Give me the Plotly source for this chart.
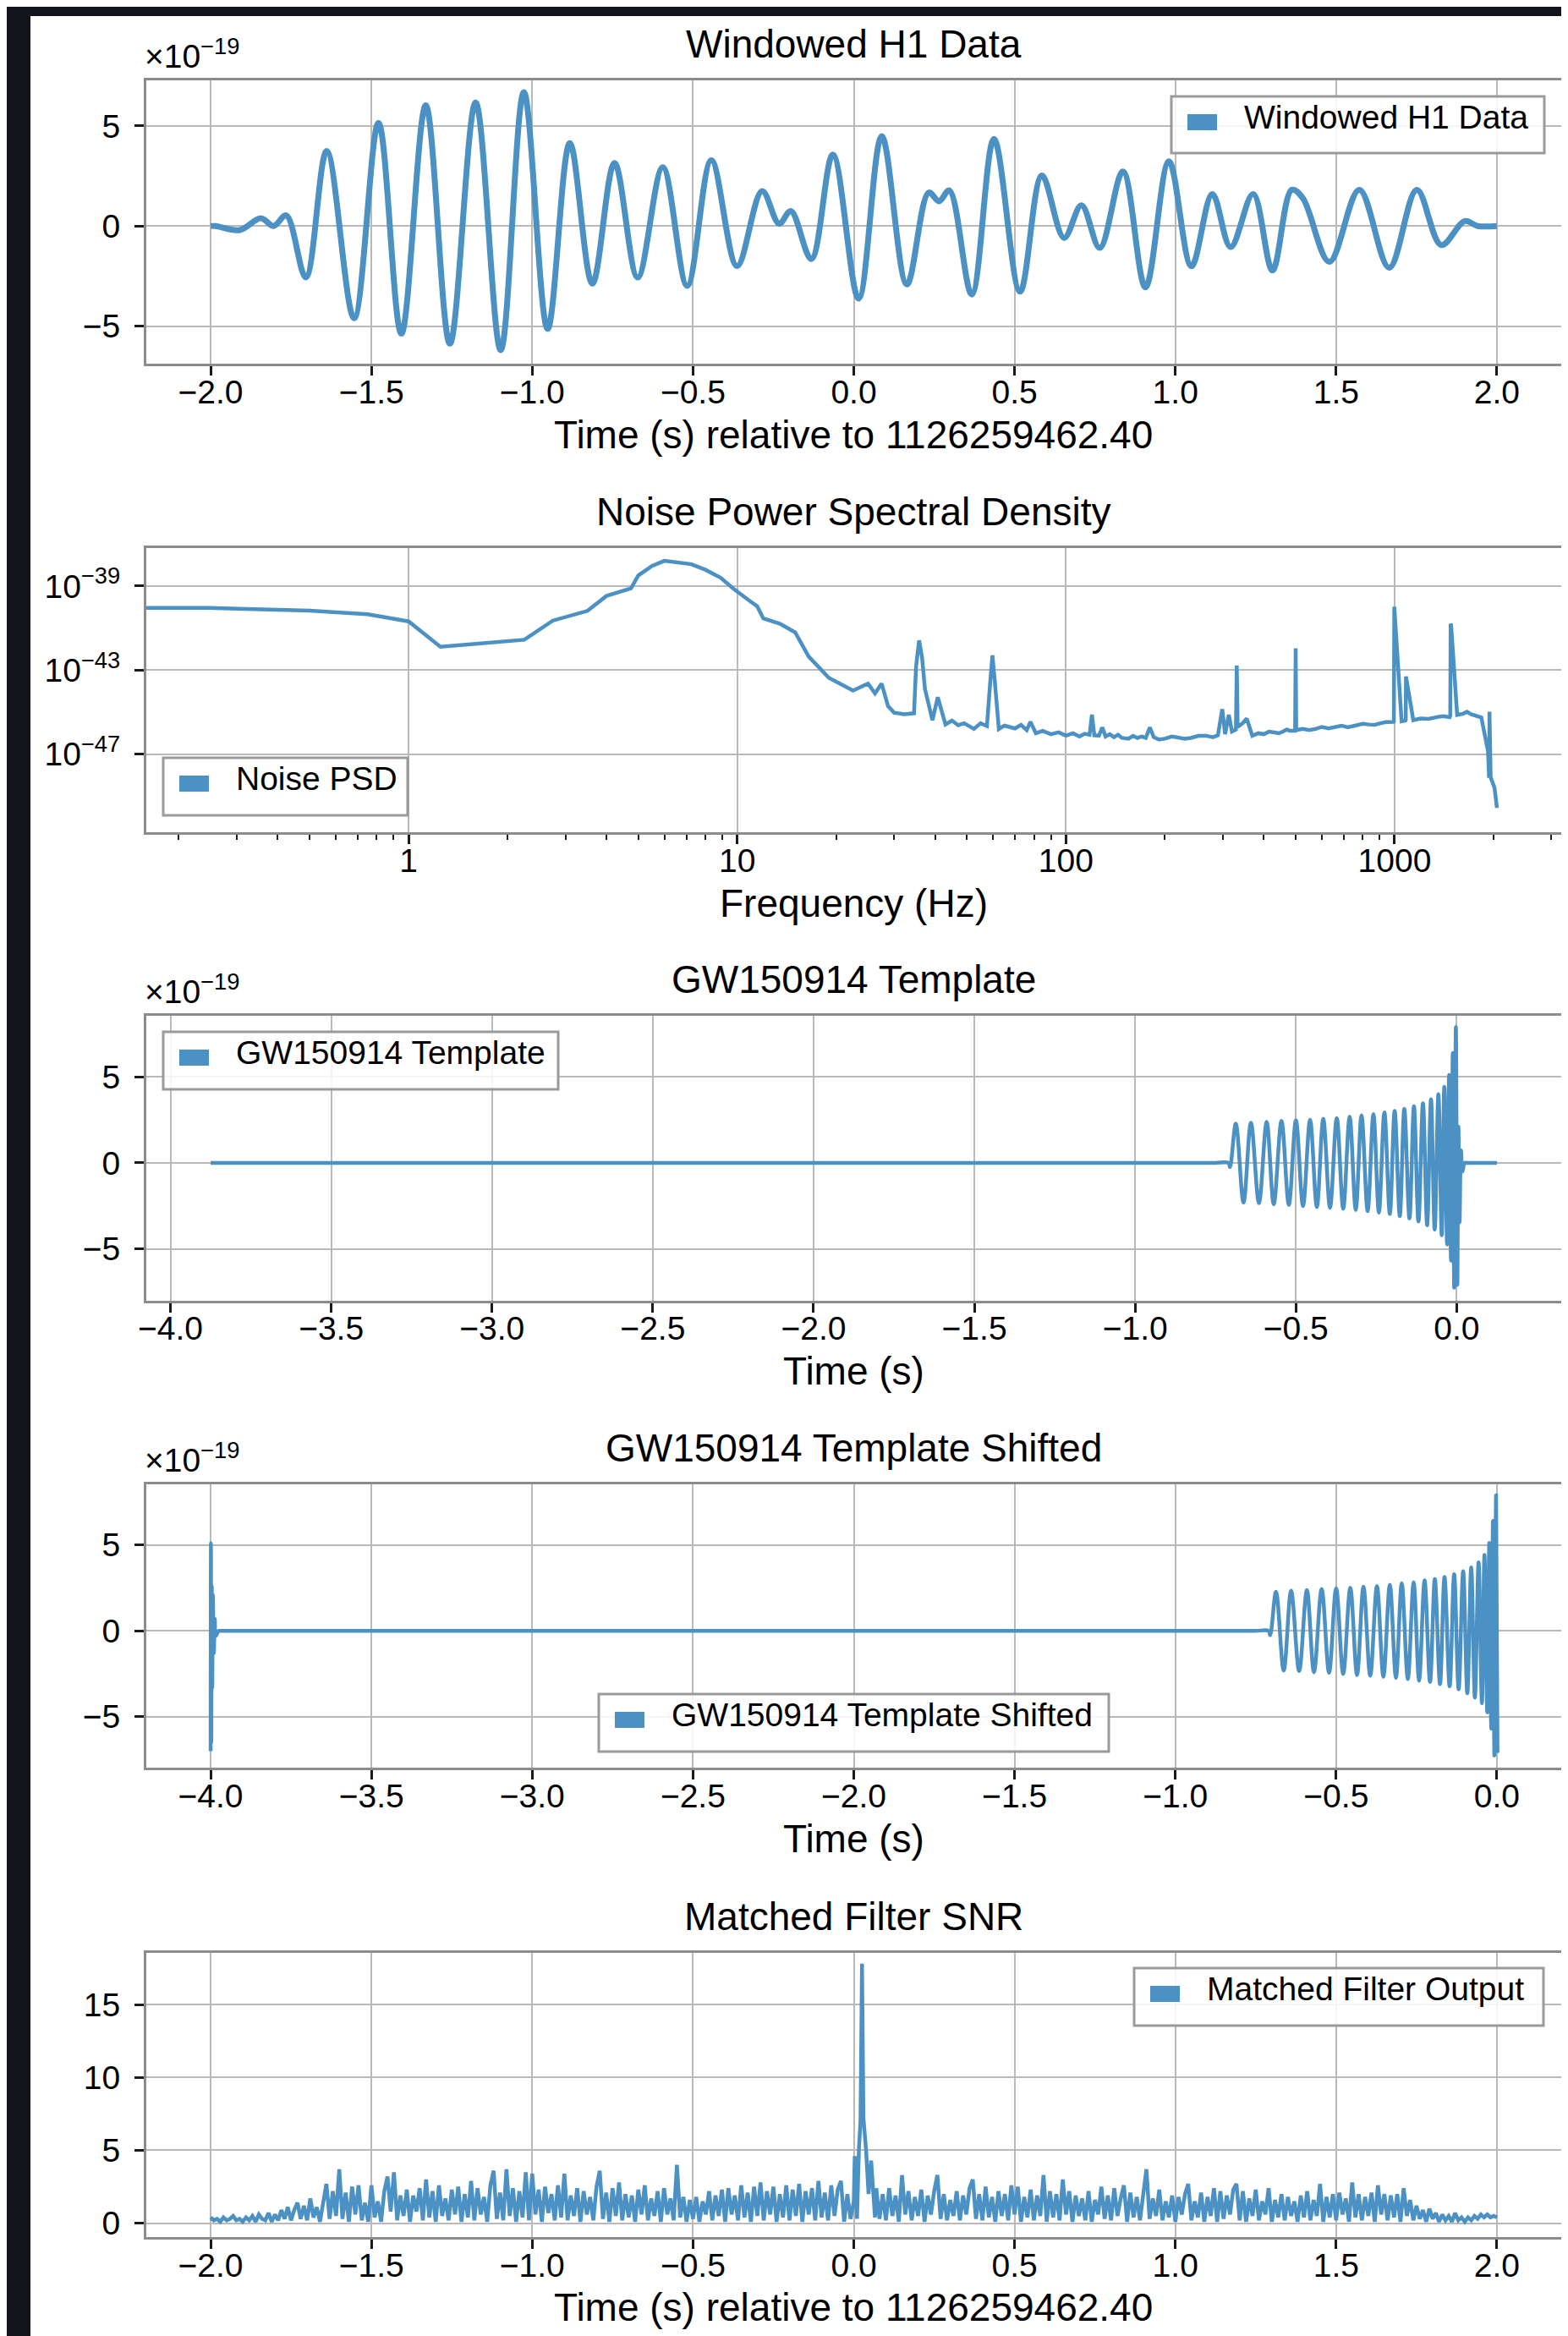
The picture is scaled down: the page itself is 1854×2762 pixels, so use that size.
import numpy as np
import plotly.graph_objects as go

# ---------------- data ----------------
# Panel 1: windowed H1 strain, extrema (time s, strain in units of 1e-19)
h1_time = [-2.0, -1.985, -1.909, -1.844, -1.804, -1.765, -1.704, -1.639, -1.554, -1.478,
           -1.407, -1.331, -1.256, -1.176, -1.098, -1.026, -0.952, -0.883, -0.813, -0.744,
           -0.672, -0.594, -0.518, -0.443, -0.363, -0.285, -0.232, -0.196, -0.132, -0.065,
           0.015, 0.087, 0.165, 0.233, 0.265, 0.297, 0.367, 0.436, 0.517, 0.585,
           0.654, 0.708, 0.765, 0.837, 0.907, 0.980, 1.050, 1.115, 1.172, 1.242,
           1.302, 1.362, 1.397, 1.479, 1.572, 1.665, 1.751, 1.827, 1.900, 1.940, 2.0]
h1_strain = [0.0, 0.0, -0.2, 0.39, 0.0, 0.53, -2.57, 3.75, -4.61, 5.15,
             -5.38, 6.03, -5.88, 6.17, -6.2, 6.69, -5.14, 4.14, -2.88, 3.15,
             -2.57, 2.94, -2.99, 3.29, -2.0, 1.74, 0.11, 0.75, -1.65, 3.57,
             -3.63, 4.49, -2.92, 1.67, 1.24, 1.78, -3.42, 4.35, -3.28, 2.52,
             -0.59, 1.03, -1.09, 2.73, -3.07, 3.23, -2.01, 1.6, -1.05, 1.6,
             -2.22, 1.81, 1.38, -1.79, 1.81, -2.08, 1.81, -0.95, 0.25, 0.0, 0.0]

# Panel 2: noise PSD (first point stands for the DC bin, clipped on the log axis)
psd_freq = [0.1, 0.25, 0.5, 0.75, 1.0, 1.25, 2.25, 2.75, 3.5, 4.0, 4.75, 5.0, 5.5, 6.0, 7.25,
            8.0, 8.9, 9.75, 11.0, 11.5, 12.0, 13.5, 15.0, 16.5, 19.0, 22.5, 25.0, 26.25, 27.5,
            28.75, 30.0, 32.25, 34.5, 35.0, 35.75, 36.5, 37.25, 39.25, 40.75, 43.0, 45.0, 47.0,
            49.0, 52.5, 55.0, 57.5, 58.75, 59.75, 60.75, 62.5, 65.0, 67.5, 70.0, 73.0, 76.0,
            78.0, 81.0, 85.0, 90.0, 95.0, 100, 105, 110, 114, 118, 120, 122, 126, 129, 132, 136,
            140, 144, 148, 155, 160, 165, 170, 175, 180, 185, 192, 200, 210, 220, 230, 240, 253,
            267, 280, 290, 299, 305, 313, 320, 329, 331, 333, 345, 355, 369, 385, 400, 415, 430,
            445, 457, 470, 480, 498, 500, 502, 525, 550, 575, 600, 630, 656, 690, 720, 760, 800,
            835, 870, 905, 942, 993, 995, 998, 1050, 1079, 1081, 1083, 1140, 1200, 1270, 1353,
            1410, 1470, 1477, 1481, 1486, 1550, 1617, 1660, 1707, 1836, 1924, 1938, 1941, 1944,
            1960, 2014, 2048]
psd_value = [9.1e-41, 9.1e-41, 6.8e-41, 4.6e-41, 2.1e-41, 1.3e-42, 2.8e-42, 2.3e-41, 6.6e-41,
             3.4e-40, 7.8e-40, 3.2e-39, 9.0e-39, 1.6e-38, 1.1e-38, 6.0e-39, 2.5e-39, 7.4e-40,
             1.8e-40, 1.1e-40, 2.9e-41, 1.6e-41, 6.3e-42, 4.4e-43, 4.3e-44, 1.07e-44, 2.3e-44,
             7.9e-45, 2.3e-44, 1.95e-45, 9.5e-46, 8.1e-46, 8.9e-46, 1.5e-43, 2.6e-42, 4.0e-43,
             1.26e-44, 4.2e-46, 5.2e-45, 2.6e-46, 4.0e-46, 2.4e-46, 3.0e-46, 1.6e-46, 3.0e-46,
             2.2e-46, 2.0e-44, 5.1e-43, 3.0e-44, 1.6e-46, 2.3e-46, 1.9e-46, 1.7e-46, 2.5e-46,
             1.4e-46, 3.5e-46, 1.0e-46, 1.3e-46, 9.0e-47, 1.1e-46, 7.6e-47, 1.0e-46, 7.0e-47,
             9.5e-47, 8.5e-47, 7.6e-46, 8.0e-47, 7.6e-47, 1.9e-46, 7.0e-47, 9.0e-47, 6.5e-47,
             8.5e-47, 6.0e-47, 5.5e-47, 7.5e-47, 6.0e-47, 7.0e-47, 6.0e-47, 1.9e-46, 6.5e-47,
             5.0e-47, 5.5e-47, 7.0e-47, 6.5e-47, 5.5e-47, 6.0e-47, 7.5e-47, 7.6e-47, 6.5e-47,
             8.0e-47, 1.4e-45, 9.0e-47, 7.6e-46, 1.2e-46, 1.5e-46, 1.7e-43, 2.0e-46, 3.0e-46,
             5.0e-46, 7.6e-47, 1.0e-46, 9.0e-47, 1.2e-46, 1.1e-46, 1.0e-46, 1.2e-46, 1.5e-46,
             1.3e-46, 1.3e-46, 1.1e-42, 1.4e-46, 1.6e-46, 1.4e-46, 1.6e-46, 2.0e-46, 1.7e-46,
             1.9e-46, 2.3e-46, 1.9e-46, 2.2e-46, 2.8e-46, 2.6e-46, 2.5e-46, 3.0e-46, 3.4e-46,
             3.5e-46, 3.6e-46, 1.05e-40, 3.7e-46, 4.0e-46, 4.2e-46, 5.0e-44, 4.2e-46, 5.0e-46,
             4.8e-46, 6.0e-46, 6.5e-46, 5.8e-46, 7.0e-46, 1.6e-41, 1.4e-41, 7.5e-46, 8.5e-46,
             1.05e-45, 8.0e-46, 5.6e-46, 1.4e-47, 8.5e-49, 8.0e-49, 1.05e-45, 8.0e-49, 2.5e-49,
             2.8e-50, 6.9e-51]

# Panel 3: GW150914 template, extrema (time s, strain in units of 1e-19)
template_time = [-3.875, -0.80, -0.75, -0.71, -0.705, -0.687, -0.663, -0.640, -0.615, -0.591,
                 -0.569, -0.545, -0.522, -0.500, -0.478, -0.456, -0.435, -0.415, -0.394, -0.373,
                 -0.353, -0.333, -0.314, -0.296, -0.277, -0.259, -0.242, -0.225, -0.208, -0.193,
                 -0.177, -0.163, -0.147, -0.133, -0.119, -0.105, -0.092, -0.080, -0.0685, -0.057,
                 -0.0466, -0.0387, -0.0299, -0.0237, -0.0176, -0.0123, -0.0079, -0.0026, 0.0018,
                 0.0053, 0.0088, 0.0132, 0.0176, 0.0246, 0.03, 0.125]
template_strain = [0.0, 0.0, 0.0, 0.0, -0.25, 2.28, -2.31, 2.34, -2.34, 2.38,
                   -2.41, 2.44, -2.44, 2.48, -2.51, 2.51, -2.57, 2.57, -2.61, 2.61,
                   -2.67, 2.69, -2.74, 2.77, -2.81, 2.84, -2.90, 2.94, -2.97, 3.02,
                   -3.10, 3.14, -3.23, 3.30, -3.40, 3.47, -3.63, 3.70, -3.88, 3.99,
                   -4.21, 4.42, -4.75, 5.12, -5.69, 6.40, -7.26, 7.89, -7.10,
                   2.1, -3.47, 0.74, -0.5, 0.0, 0.0, 0.0]

# Panel 4: shifted template = wrapped merger at -4 s + template chirp up to 0 s
shifted_wrap_time = [-4.0, -3.999, -3.998, -3.9965, -3.995, -3.993, -3.990, -3.987, -3.984,
                     -3.975, -3.97]
shifted_wrap_strain = [-7.0, 5.1, -6.5, 2.6, -3.3, 2.1, -1.3, 0.7, -0.3, 0.0, 0.0]
shifted_chirp_start = -0.80
shifted_end = 0.002

# Panel 5: matched filter SNR
snr_pre_start, snr_step = -2.0, 0.01
snr_pre = [0.4, 0.2, 0.3, 0.1, 0.4, 0.2, 0.3, 0.5, 0.2, 0.3,
           0.1, 0.4, 0.2, 0.5, 0.1, 0.6, 0.3, 0.2, 0.7, 0.1,
           0.6, 0.2, 0.9, 0.3, 1.1, 0.2, 0.9, 1.4, 0.3, 1.2,
           0.2, 1.7, 0.4, 1.1, 0.1, 1.4, 2.7, 0.3, 2.2, 0.5,
           3.7, 0.3, 2.1, 0.1, 2.5, 0.6, 2.6, 0.2, 1.4, 0.1,
           2.6, 0.4, 1.5, 0.1, 2.2, 3.2, 0.8, 3.5, 0.2, 1.9,
           0.5, 2.3, 0.1, 1.9, 0.8, 2.4, 0.2, 3.0, 0.4, 2.2,
           0.1, 2.6, 0.5, 1.7, 0.2, 2.3, 0.6, 2.5, 0.1, 2.0,
           0.4, 2.9, 0.2, 2.4, 0.6, 1.8, 0.1, 2.6, 3.6, 0.3,
           2.1, 0.2, 3.7, 0.5, 2.4, 0.1, 2.2, 0.4, 3.5, 0.2,
           3.4, 0.6, 2.3, 0.1, 2.5, 0.7, 2.0, 0.2, 2.6, 0.4,
           3.4, 0.2, 1.9, 0.5, 2.4, 0.1, 2.2, 0.6, 1.8, 0.2,
           2.5, 3.6, 0.3, 2.1, 0.1, 2.4, 0.5, 2.8, 0.2, 2.0,
           0.4, 1.9, 0.1, 2.3, 0.6, 2.6, 0.2, 1.7, 0.5, 2.2,
           0.1, 2.4, 0.6, 1.7, 0.2, 4.0, 0.4, 1.8, 0.1, 1.6,
           0.3, 1.8, 0.1, 1.5, 0.6, 2.2, 0.2, 1.9, 0.5, 2.3,
           0.1, 2.4, 0.6, 1.9, 0.2, 2.6, 0.4, 2.1, 0.1, 2.5,
           0.5, 2.8, 0.2, 2.2, 0.6, 2.5, 0.1, 2.0, 0.4, 2.6,
           0.2, 2.3, 0.5, 2.7, 0.1, 2.2, 0.6, 2.4, 0.2, 2.9,
           0.4, 2.1, 0.2, 2.6, 0.5, 2.3, 2.9, 0.1, 2.0, 0.3]
snr_peak_time = [0.0, 0.003, 0.01, 0.016, 0.021, 0.0256, 0.03, 0.038, 0.046, 0.054, 0.066]
snr_peak_value = [1.5, 4.6, 0.3, 5.1, 7.0, 17.8, 7.2, 5.1, 2.0, 4.3, 0.4]
snr_post_start = 0.07
snr_post = [2.4, 0.3, 2.0,
            0.2, 2.4, 0.5, 1.9, 0.1, 3.3, 0.6, 2.2, 0.2, 1.8,
            0.5, 2.3, 0.1, 1.9, 0.6, 2.2, 3.3, 0.3, 2.0, 0.2,
            1.6, 0.5, 2.2, 0.2, 1.9, 0.6, 2.4, 3.0, 0.3, 2.0,
            0.2, 2.5, 0.4, 1.8, 0.1, 2.2, 0.5, 2.0, 0.2, 2.6,
            0.6, 2.5, 0.1, 1.8, 0.4, 2.3, 0.2, 1.9, 0.5, 3.3,
            0.1, 2.2, 0.4, 2.0, 0.2, 3.0, 0.6, 2.2, 0.1, 1.9,
            0.5, 1.7, 0.2, 2.2, 0.1, 1.6, 0.6, 2.5, 0.3, 1.9,
            0.2, 2.4, 0.5, 1.7, 2.6, 0.1, 2.1, 0.4, 1.8, 0.2,
            2.0, 3.7, 0.3, 1.7, 0.5, 2.3, 0.2, 1.5, 0.4, 1.9,
            0.1, 1.8, 0.6, 2.0, 2.7, 0.2, 1.5, 0.4, 2.1, 0.1,
            1.8, 0.5, 2.4, 0.1, 2.2, 0.3, 1.9, 0.6, 2.3, 2.7,
            0.2, 2.2, 0.1, 1.7, 0.5, 2.3, 0.2, 1.5, 0.6, 2.4,
            0.1, 1.6, 0.4, 2.0, 0.2, 1.8, 0.5, 1.5, 0.1, 1.9,
            0.4, 2.2, 0.2, 1.6, 0.5, 2.7, 0.1, 1.8, 0.4, 2.0,
            0.2, 2.1, 0.6, 1.7, 0.1, 2.8, 0.4, 2.0, 0.2, 1.8,
            0.5, 2.1, 0.1, 2.6, 0.6, 2.0, 0.2, 1.9, 0.4, 2.0,
            0.1, 2.4, 0.5, 1.6, 0.2, 1.2, 0.3, 0.9, 0.1, 1.0,
            0.3, 0.7, 0.1, 0.6, 0.2, 0.5, 0.1, 0.7, 0.2, 0.4,
            0.1, 0.4, 0.2, 0.5, 0.3, 0.6, 0.4, 0.6, 0.4, 0.5,
            0.4]

titles = ["Windowed H1 Data", "Noise Power Spectral Density", "GW150914 Template",
          "GW150914 Template Shifted", "Matched Filter SNR"]
legend_names = ["Windowed H1 Data", "Noise PSD", "GW150914 Template",
                "GW150914 Template Shifted", "Matched Filter Output"]
xlabels = ["Time (s) relative to 1126259462.40", "Frequency (Hz)", "Time (s)", "Time (s)",
           "Time (s) relative to 1126259462.40"]
offset_label = "×10<sup>−19</sup>"

# ---------------- derived series ----------------
shifted_time = list(shifted_wrap_time) + [t for t in template_time if shifted_chirp_start <= t <= shifted_end]
shifted_strain = list(shifted_wrap_strain) + [v for t, v in zip(template_time, template_strain)
                                              if shifted_chirp_start <= t <= shifted_end]
snr_time = ([round(snr_pre_start + i * snr_step, 4) for i in range(len(snr_pre))] + snr_peak_time +
            [round(snr_post_start + i * snr_step, 4) for i in range(len(snr_post))])
snr_value = snr_pre + snr_peak_value + snr_post

# ---------------- styling / layout ----------------
W, H = 1854, 2762
BLUE = "#4b91c3"
FONT = "Liberation Sans, Arial, Helvetica, sans-serif"
SPINE = "#8c8c8c"
GRID = "#b9b9b9"
TICKC = "#1a1a1a"
TICK_SIZE = 39
TITLE_SIZE = 46
LEG_SIZE = 39

def px(x):
    return x / W

def py(y):
    return 1 - y / H

X_LEFT, X_RIGHT = 165, 1838
panel_px = [(87, 422), (640, 976), (1193, 1529.5), (1746.7, 2082.3), (2300.7, 2636.7)]
# legend boxes (left, right, top, bottom) in pixels
legend_boxes = [(1377, 1818, 106, 173), (185, 474, 888, 956), (185, 652, 1212, 1280),
                (700, 1303, 1995, 2063), (1333, 1817, 2319, 2387)]

fig = go.Figure()

def add_panel(i, x, y, width, shape="linear"):
    ax = "" if i == 0 else str(i + 1)
    fig.add_trace(go.Scatter(x=x, y=y, mode="lines", line=dict(color=BLUE, width=width, shape=shape),
                             xaxis="x" + ax, yaxis="y" + ax, name=legend_names[i],
                             showlegend=False, hoverinfo="skip"))

add_panel(0, h1_time, h1_strain, 7, "spline")
add_panel(1, psd_freq, psd_value, 4.5)
add_panel(2, template_time, template_strain, 4.5, "spline")
add_panel(3, shifted_time, shifted_strain, 4.5, "spline")
add_panel(4, snr_time, snr_value, 4.5)

axis_common = dict(showline=True, mirror=True, linecolor=SPINE, linewidth=3,
                   showgrid=True, gridcolor=GRID, gridwidth=2, zeroline=False,
                   ticks="outside", ticklen=11, tickwidth=2.5, tickcolor=TICKC,
                   tickfont=dict(size=TICK_SIZE, color="black", family=FONT))

x_ranges = [[-2.2, 2.2], [-0.798, 3.507], [-4.075, 0.325], [-4.2, 0.2], [-2.2, 2.2]]
y_ranges = [[-6.88, 7.28], [-50.71, -37.19], [-8.0, 8.56], [-7.98, 8.55], [-0.93, 18.56]]

layout = {}
for i, (top, bot) in enumerate(panel_px):
    ax = "" if i == 0 else str(i + 1)
    xa = dict(axis_common, domain=[px(X_LEFT), px(X_RIGHT)], anchor="y" + ax, range=x_ranges[i],
              ticklabelstandoff=-14)
    ya = dict(axis_common, domain=[py(bot), py(top)], anchor="x" + ax, range=y_ranges[i],
              ticklabelstandoff=9)
    if i == 1:
        xa.update(type="log", tickmode="array", tickvals=[1, 10, 100, 1000],
                  ticktext=["1", "10", "100", "1000"],
                  minor=dict(ticks="outside", ticklen=6, tickwidth=2, tickcolor=TICKC, showgrid=False,
                             tickmode="array",
                             tickvals=[0.2, 0.3, 0.4, 0.5, 0.6, 0.7, 0.8, 0.9,
                                       2, 3, 4, 5, 6, 7, 8, 9, 20, 30, 40, 50, 60, 70, 80, 90,
                                       200, 300, 400, 500, 600, 700, 800, 900, 2000, 3000]))
        ya.update(type="log", tickmode="array", tickvals=[1e-47, 1e-43, 1e-39],
                  ticktext=["10<sup>−47</sup>", "10<sup>−43</sup>", "10<sup>−39</sup>"])
    else:
        xa.update(tick0=0, dtick=0.5, tickformat=".1f")
        ya.update(tick0=0, dtick=5)
    layout["xaxis" + ax] = xa
    layout["yaxis" + ax] = ya

annotations = []
xc = (X_LEFT + X_RIGHT) / 2
for i, (top, bot) in enumerate(panel_px):
    annotations.append(dict(x=px(xc), y=py(top - 35.5 - 0.16 * TITLE_SIZE), xref="paper", yref="paper",
                            text=titles[i], showarrow=False, xanchor="center", yanchor="middle",
                            font=dict(size=TITLE_SIZE, color="black", family=FONT)))
    annotations.append(dict(x=px(xc), y=py(bot + 92 - 0.18 * TITLE_SIZE), xref="paper", yref="paper",
                            text=xlabels[i], showarrow=False, xanchor="center", yanchor="middle",
                            font=dict(size=TITLE_SIZE, color="black", family=FONT)))
    if i in (0, 2, 3):
        annotations.append(dict(x=px(161), y=py(top - 5), xref="paper", yref="paper", text=offset_label,
                                showarrow=False, xanchor="left", yanchor="bottom",
                                font=dict(size=TICK_SIZE, color="black", family=FONT)))

DARK = "#121419"
shapes = [
    dict(type="rect", xref="paper", yref="paper", x0=0, x1=px(28), y0=0, y1=1,
         fillcolor=DARK, line=dict(width=0), layer="below"),
    dict(type="rect", xref="paper", yref="paper", x0=0, x1=1, y0=py(11), y1=1,
         fillcolor=DARK, line=dict(width=0), layer="below"),
]

# legends: framed box, colour patch and label
for name, (l, r, t, b) in zip(legend_names, legend_boxes):
    shapes.append(dict(type="rect", xref="paper", yref="paper", x0=px(l), x1=px(r), y0=py(b), y1=py(t),
                       fillcolor="rgba(255,255,255,0.85)", line=dict(color="#9a9a9a", width=3),
                       layer="above"))
    shapes.append(dict(type="rect", xref="paper", yref="paper", x0=px(l + 19), x1=px(l + 54),
                       y0=py(t + 40), y1=py(t + 21), fillcolor=BLUE, line=dict(width=0), layer="above"))
    annotations.append(dict(x=px(l + 84), y=py(t + 31 - 0.16 * LEG_SIZE), xref="paper", yref="paper",
                            text=name, showarrow=False, xanchor="left", yanchor="middle",
                            font=dict(size=LEG_SIZE, color="black", family=FONT)))

fig.update_layout(width=W, height=H, margin=dict(l=0, r=0, t=0, b=0, autoexpand=False),
                  paper_bgcolor="white", plot_bgcolor="white", showlegend=False,
                  font=dict(family=FONT, color="black"),
                  annotations=annotations, shapes=shapes, **layout)

fig.write_html("out.html")
